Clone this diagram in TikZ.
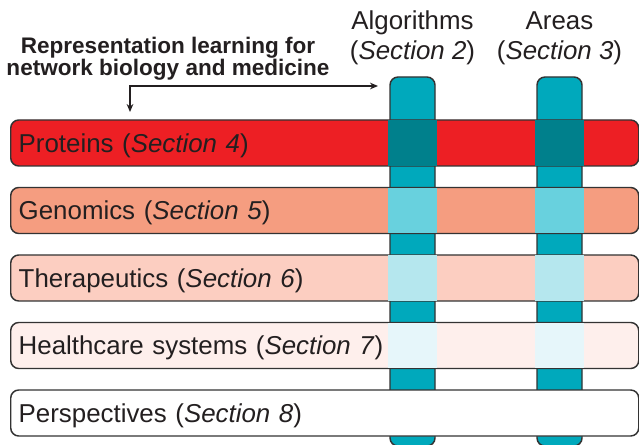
\documentclass[tikz,border=0pt]{standalone}
\usepackage{fontspec}
\setmainfont{Liberation Sans}
\usetikzlibrary{arrows.meta}
\pgfdeclarelayer{bg}
\pgfsetlayers{bg,main}

\definecolor{inkgray}{HTML}{231F20}
\definecolor{edgegray}{HTML}{333333}
\definecolor{barteal}{HTML}{00A9BC}
\definecolor{rowA}{HTML}{ED1F24}
\definecolor{rowB}{HTML}{F59D80}
\definecolor{rowC}{HTML}{FCCEC1}
\definecolor{rowD}{HTML}{FEEFEC}
\definecolor{ovlA}{HTML}{00808C}
\definecolor{ovlB}{HTML}{68D1DE}
\definecolor{ovlC}{HTML}{B5E7EE}
\definecolor{ovlD}{HTML}{E6F6FA}

\begin{document}
\begin{tikzpicture}[x=0.75pt, y=-0.75pt,
    colbar/.style={draw=edgegray, fill=barteal, line width=1.1pt, rounded corners=6pt,
      minimum width=33.75pt, minimum height=276.75pt, inner sep=0pt},
    rowbox/.style={draw=edgegray, line width=1.1pt, rounded corners=6pt, anchor=west,
      minimum height=34.5pt, text width=459pt, inner xsep=6pt, inner ysep=0pt,
      text depth=0pt, align=left, text=inkgray,
      font=\fontsize{19.4}{22.5}\selectfont},
    headtxt/.style={align=center, inner sep=0pt, text=inkgray,
      font=\fontsize{19.4}{22.5}\selectfont}]
  \useasboundingbox (0,0) rectangle (639,445);

  % the two bars
  \begin{pgfonlayer}{bg}
    \node[colbar] (alg) at (412.5,261.5) {};
    \node[colbar] (area) at (559.5,261.5) {};
  \end{pgfonlayer}

  \node[headtxt] (alghead) at (412.5,38) {Algorithms\\(\textit{Section 2})};
  \node[headtxt] (areahead) at (559.5,38) {Areas\\(\textit{Section 3})};
  \node[align=center, inner sep=0pt, text=inkgray,
    font=\fontsize{16.9}{15.75}\selectfont\bfseries] (title) at (168,58.5)
    {Representation learning for\\network biology and medicine};

  \coordinate (tipA) at (130,112);
  \coordinate (tipB) at (378,86);
  \draw[{Stealth[length=6pt,width=5pt]}-{Stealth[length=6pt,width=5pt]},
    line width=0.9pt, draw=inkgray] (tipA) |- (tipB);

  % rows
  \node[rowbox, fill=rowA] (proteins) at (10,143) {Proteins (\textit{Section 4})};
  \node[rowbox, fill=rowB] (genomics) at (10,210.5) {Genomics (\textit{Section 5})};
  \node[rowbox, fill=rowC] (therap) at (10,278) {Therapeutics (\textit{Section 6})};
  \node[rowbox, fill=rowD] (health) at (10,345.5) {Healthcare systems (\textit{Section 7})};
  \node[rowbox, fill=white] (persp) at (10,413) {Perspectives (\textit{Section 8})};

  % crossings
  \foreach \r/\c in {proteins/ovlA, genomics/ovlB, therap/ovlC, health/ovlD}
    \foreach \k in {alg, area}
      \fill[\c] ([xshift=-0.6pt, yshift=-0.6pt]\r.north -| \k.west)
        rectangle ([xshift=0.6pt, yshift=0.6pt]\r.south -| \k.east);
\end{tikzpicture}
\end{document}
